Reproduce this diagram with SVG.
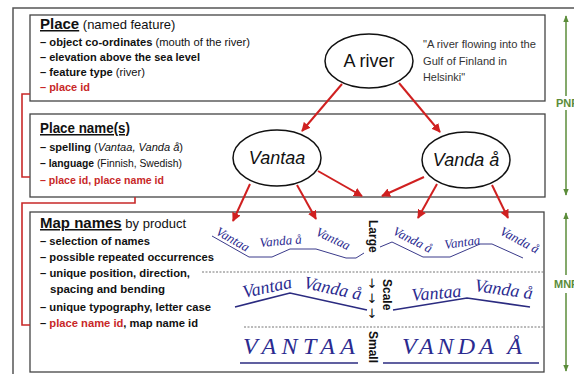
<svg xmlns="http://www.w3.org/2000/svg" width="574" height="374" viewBox="0 0 574 374">
<defs>
<marker id="ra" viewBox="0 0 10 10" refX="9" refY="5" markerWidth="9" markerHeight="9" markerUnits="userSpaceOnUse" orient="auto">
<path d="M0,0 L10,5 L0,10 z" fill="#d02020"/>
</marker>
<marker id="ga" viewBox="0 0 10 10" refX="9" refY="5" markerWidth="7" markerHeight="7" markerUnits="userSpaceOnUse" orient="auto">
<path d="M0,1 L10,5 L0,9 z" fill="#5b8c3a"/>
</marker>
<style>
.box{fill:#fff;stroke:#444;stroke-width:1.3}
.ell{fill:#fff;stroke:#111;stroke-width:1.5}
.hd{font-family:"Liberation Sans",Arial,sans-serif;font-size:15px;font-weight:bold;fill:#111}
.u{text-decoration:underline}
.hn{font-weight:normal;font-size:13px}
.li{font-family:"Liberation Sans",Arial,sans-serif;font-size:11px;font-weight:bold;fill:#111}
.nb{font-weight:normal}
.red{fill:#c82828}
.q{font-family:"Liberation Sans",Arial,sans-serif;font-size:11px;fill:#333}
.en{font-family:"Liberation Sans",Arial,sans-serif;font-size:18px;fill:#111;text-anchor:middle}
.rc{fill:none;stroke:#c82828;stroke-width:1.6}
.ar{stroke:#d02020;stroke-width:2;fill:none;marker-end:url(#ra)}
.gl{stroke:#5b8c3a;stroke-width:1.5;fill:none}
.gt{font-family:"Liberation Sans",Arial,sans-serif;font-size:11px;font-weight:bold;fill:#5b8c3a}
.mn{font-family:"Liberation Serif","Times New Roman",serif;font-style:italic;fill:#2b2b90}
.bl{fill:none;stroke:#3a3a8a;stroke-width:1}
.bl2{fill:none;stroke:#2b2b80;stroke-width:1.6}
.dl{stroke:#777;stroke-width:1;stroke-dasharray:2,1.5}
.vt{font-family:"Liberation Sans",Arial,sans-serif;font-size:12px;font-weight:bold;fill:#111}
.aw{font-family:"DejaVu Sans",sans-serif;font-size:13px;fill:#111;text-anchor:middle}
</style>
</defs>
<rect x="0" y="0" width="574" height="374" fill="#fff"/>
<rect x="13" y="8" width="580" height="380" fill="none" stroke="#555" stroke-width="1.5"/>

<g id="place">
<rect class="box" x="30" y="15" width="515" height="86"/>
<text class="hd" x="40" y="29"><tspan class="u">Place</tspan><tspan class="hn"> (named feature)</tspan></text>
<text class="li" x="40" y="46" textLength="210" lengthAdjust="spacingAndGlyphs">– object co-ordinates <tspan class="nb">(mouth of the river)</tspan></text>
<text class="li" x="40" y="61" textLength="160" lengthAdjust="spacingAndGlyphs">– elevation above the sea level</text>
<text class="li" x="40" y="76" textLength="105" lengthAdjust="spacingAndGlyphs">– feature type <tspan class="nb">(river)</tspan></text>
<text class="li red" x="40" y="91" textLength="50" lengthAdjust="spacingAndGlyphs">– place id</text>
<text class="q" x="423" y="48" textLength="113" lengthAdjust="spacingAndGlyphs">"A river flowing into the</text>
<text class="q" x="423" y="65" textLength="84" lengthAdjust="spacingAndGlyphs">Gulf of Finland in</text>
<text class="q" x="423" y="81" textLength="42" lengthAdjust="spacingAndGlyphs">Helsinki"</text>
</g>

<g id="place-names">
<rect class="box" x="30" y="114" width="515" height="83"/>
<text class="hd u" x="40" y="133" textLength="90" lengthAdjust="spacingAndGlyphs">Place name(s)</text>
<text class="li" x="40" y="151" textLength="143" lengthAdjust="spacingAndGlyphs">– spelling <tspan class="nb">(<tspan font-style="italic">Vantaa, Vanda å</tspan>)</tspan></text>
<text class="li" x="40" y="167" textLength="142" lengthAdjust="spacingAndGlyphs">– language <tspan class="nb">(Finnish, Swedish)</tspan></text>
<text class="li red" x="40" y="184" textLength="124" lengthAdjust="spacingAndGlyphs">– place id, place name id</text>
</g>

<g id="map-names">
<rect class="box" x="30" y="212" width="514" height="160"/>
<text class="hd" x="40" y="228"><tspan class="u">Map names</tspan><tspan class="hn"> by product</tspan></text>
<text class="li" x="40" y="245" textLength="110" lengthAdjust="spacingAndGlyphs">– selection of names</text>
<text class="li" x="40" y="261" textLength="174" lengthAdjust="spacingAndGlyphs">– possible repeated occurrences</text>
<text class="li" x="40" y="277" textLength="150" lengthAdjust="spacingAndGlyphs">– unique position, direction,</text>
<text class="li" x="50" y="293" textLength="115" lengthAdjust="spacingAndGlyphs">spacing and bending</text>
<text class="li" x="40" y="311" textLength="171" lengthAdjust="spacingAndGlyphs">– unique typography, letter case</text>
<text class="li" x="40" y="327" textLength="158" lengthAdjust="spacingAndGlyphs">– <tspan class="red">place name id</tspan>, map name id</text>
<line class="dl" x1="202" y1="272" x2="544" y2="272"/>
<line class="dl" x1="244" y1="327" x2="544" y2="327"/>
<polyline class="bl" points="212,236 249,257 272,257 290,249 316,249 346,258 356,258 364,253"/>
<text class="mn" font-size="13" transform="translate(215,234) rotate(30)">Vantaa</text>
<text class="mn" font-size="13" transform="translate(260,247) rotate(-5)">Vanda å</text>
<text class="mn" font-size="13" transform="translate(315,235) rotate(25)">Vantaa</text>
<polyline class="bl" points="380,247 392,242 423,257 450,257 480,244 492,244 523,258"/>
<text class="mn" font-size="13" transform="translate(392,234) rotate(27)">Vanda å</text>
<text class="mn" font-size="13" transform="translate(445,249) rotate(-8)">Vantaa</text>
<text class="mn" font-size="13" transform="translate(499,234) rotate(28)">Vanda å</text>
<polyline class="bl2" points="235,307 290,293 367,310"/>
<text class="mn" font-size="18" transform="translate(244,298) rotate(-12)">Vantaa</text>
<text class="mn" font-size="18" transform="translate(303,288) rotate(12)">Vanda å</text>
<polyline class="bl2" points="393,310 467,298 530,307"/>
<text class="mn" font-size="18" transform="translate(412,301) rotate(-5)">Vantaa</text>
<text class="mn" font-size="18" transform="translate(474,291) rotate(8)">Vanda å</text>
<text class="mn" font-size="24" x="243" y="354" textLength="112" lengthAdjust="spacing">VANTAA</text>
<line class="bl2" x1="240" y1="363" x2="358" y2="363"/>
<text class="mn" font-size="24" x="402" y="354" textLength="120" lengthAdjust="spacing">VANDA Å</text>
<line class="bl2" x1="383" y1="363" x2="539" y2="363"/>
<text class="vt" transform="translate(369,220) rotate(90)">Large</text>
<text class="vt" transform="translate(383,279) rotate(90)">Scale</text>
<text class="vt" transform="translate(369,331) rotate(90)">Small</text>
<text class="aw" x="372" y="288">↓</text>
<text class="aw" x="372" y="303">↓</text>
<text class="aw" x="372" y="318">↓</text>
</g>

<g id="a-river">
<ellipse class="ell" cx="369" cy="61" rx="44" ry="27"/>
<text class="en" x="369" y="67">A river</text>
</g>
<g id="vantaa">
<ellipse class="ell" cx="277" cy="158" rx="44" ry="28"/>
<text class="en" x="277" y="164" font-style="italic">Vantaa</text>
</g>
<g id="vanda">
<ellipse class="ell" cx="466" cy="160" rx="44" ry="28"/>
<text class="en" x="466" y="166" font-style="italic">Vanda å</text>
</g>

<g id="connectors">
<polyline class="rc" points="30,94 22,94 22,177 30,177"/>
<polyline class="rc" points="135,197 135,203 22,203 22,325 30,325"/>
<line class="ar" x1="342" y1="84" x2="302" y2="131"/>
<line class="ar" x1="399" y1="83" x2="440" y2="132"/>
<line class="ar" x1="250" y1="184" x2="233" y2="221"/>
<line class="ar" x1="297" y1="185" x2="316" y2="219"/>
<line class="ar" x1="318" y1="171" x2="362" y2="196"/>
<line class="ar" x1="424" y1="177" x2="382" y2="196"/>
<line class="ar" x1="437" y1="184" x2="418" y2="218"/>
<line class="ar" x1="492" y1="185" x2="508" y2="218"/>
<line class="gl" x1="566" y1="96" x2="566" y2="16" marker-end="url(#ga)"/>
<line class="gl" x1="566" y1="110" x2="566" y2="195" marker-end="url(#ga)"/>
<line class="gl" x1="566" y1="275" x2="566" y2="213" marker-end="url(#ga)"/>
<line class="gl" x1="566" y1="293" x2="566" y2="371" marker-end="url(#ga)"/>
<text class="gt" x="556" y="107">PNR</text>
<text class="gt" x="554" y="288">MNR</text>
</g>
</svg>
